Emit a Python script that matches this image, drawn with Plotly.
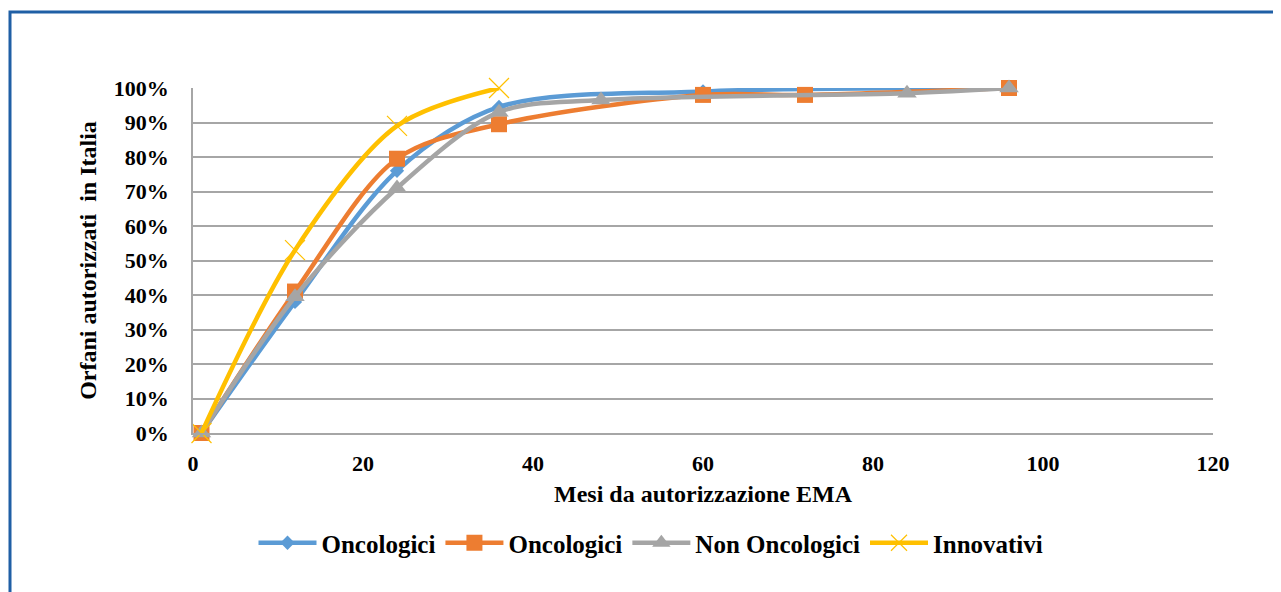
import plotly.graph_objects as go

# Data (months since EMA authorisation, share authorised in Italy)
onco1_x = [1, 12, 24, 36, 60, 96]
onco1_y = [0.0, 0.38, 0.76, 0.945, 0.99, 1.0]

onco2_x = [1, 12, 24, 36, 60, 72, 96]
onco2_y = [0.0, 0.41, 0.795, 0.895, 0.98, 0.98, 1.0]

nononco_x = [1, 12, 24, 36, 48, 84, 96]
nononco_y = [0.0, 0.395, 0.71, 0.93, 0.965, 0.985, 1.0]

innov_x = [1, 12, 24, 36]
innov_y = [0.0, 0.53, 0.89, 1.0]

names = ["Oncologici", "Oncologici", "Non Oncologici", "Innovativi"]
x_ticks = [0, 20, 40, 60, 80, 100, 120]
y_ticks = [0, 0.1, 0.2, 0.3, 0.4, 0.5, 0.6, 0.7, 0.8, 0.9, 1.0]

FONT = "Liberation Serif"

# page body has an 8px margin; compensate
L, T, PW, PH = 185, 80, 1020, 345
W, H = 1273, 584

fig = go.Figure()
fig.add_trace(go.Scatter(
    x=onco1_x, y=onco1_y, name=names[0], mode="lines+markers",
    line=dict(color="#5B9BD5", width=4.5, shape="spline", smoothing=0.9),
    marker=dict(symbol="diamond", size=11, color="#5B9BD5"),
    cliponaxis=False))
fig.add_trace(go.Scatter(
    x=onco2_x, y=onco2_y, name=names[1], mode="lines+markers",
    line=dict(color="#ED7D31", width=4.5, shape="spline", smoothing=0.9),
    marker=dict(symbol="square", size=16, color="#ED7D31"),
    cliponaxis=False))
fig.add_trace(go.Scatter(
    x=nononco_x, y=nononco_y, name=names[2], mode="lines+markers",
    line=dict(color="#A5A5A5", width=4.5, shape="spline", smoothing=0.9),
    marker=dict(symbol="triangle-up", size=17, color="#A5A5A5"),
    cliponaxis=False))
fig.add_trace(go.Scatter(
    x=innov_x, y=innov_y, name=names[3], mode="lines+markers",
    line=dict(color="#FFC000", width=4.5, shape="spline", smoothing=0.9),
    marker=dict(symbol="x-thin", size=20, line=dict(color="#FFC000", width=1.2)),
    cliponaxis=False))

# outer blue frame (left/top edges visible, rest beyond the picture)
fig.add_shape(type="rect", xref="paper", yref="paper",
              x0=(2 - L) / PW, x1=(1300 - L) / PW,
              y0=(T + PH - 620) / PH, y1=(T + PH - 4) / PH,
              line=dict(color="#1F5FA5", width=3), layer="below")

fig.update_layout(
    width=W, height=H,
    margin=dict(l=L, r=W - L - PW, t=T, b=H - T - PH),
    paper_bgcolor="white", plot_bgcolor="white",
    font=dict(family=FONT, color="black", size=22),
    showlegend=True,
    legend=dict(orientation="h", x=(651 - 193) / PW, xanchor="center",
                y=-110 / PH, yanchor="middle",
                font=dict(family=FONT, size=25, weight="bold"),
                itemwidth=58, traceorder="normal"),
    xaxis=dict(range=[0, 120], tickvals=x_ticks, showgrid=False, zeroline=False,
               showline=True, linecolor="#A6A6A6", linewidth=1.5,
               tickfont=dict(family=FONT, size=22, weight="bold"),
               ticklabelstandoff=10,
               title=dict(text="Mesi da autorizzazione EMA", standoff=10,
                          font=dict(family=FONT, size=24, weight="bold"))),
    yaxis=dict(range=[0, 1], tickvals=y_ticks, tickformat=".0%",
               showgrid=True, gridcolor="#A6A6A6", gridwidth=1.5, zeroline=False,
               showline=True, linecolor="#A6A6A6", linewidth=1.5,
               tickfont=dict(family=FONT, size=22, weight="bold"),
               ticklabelstandoff=18,
               title=dict(text="Orfani autorizzati  in Italia", standoff=10,
                          font=dict(family=FONT, size=24, weight="bold"))),
)

fig.write_html("out.html")
